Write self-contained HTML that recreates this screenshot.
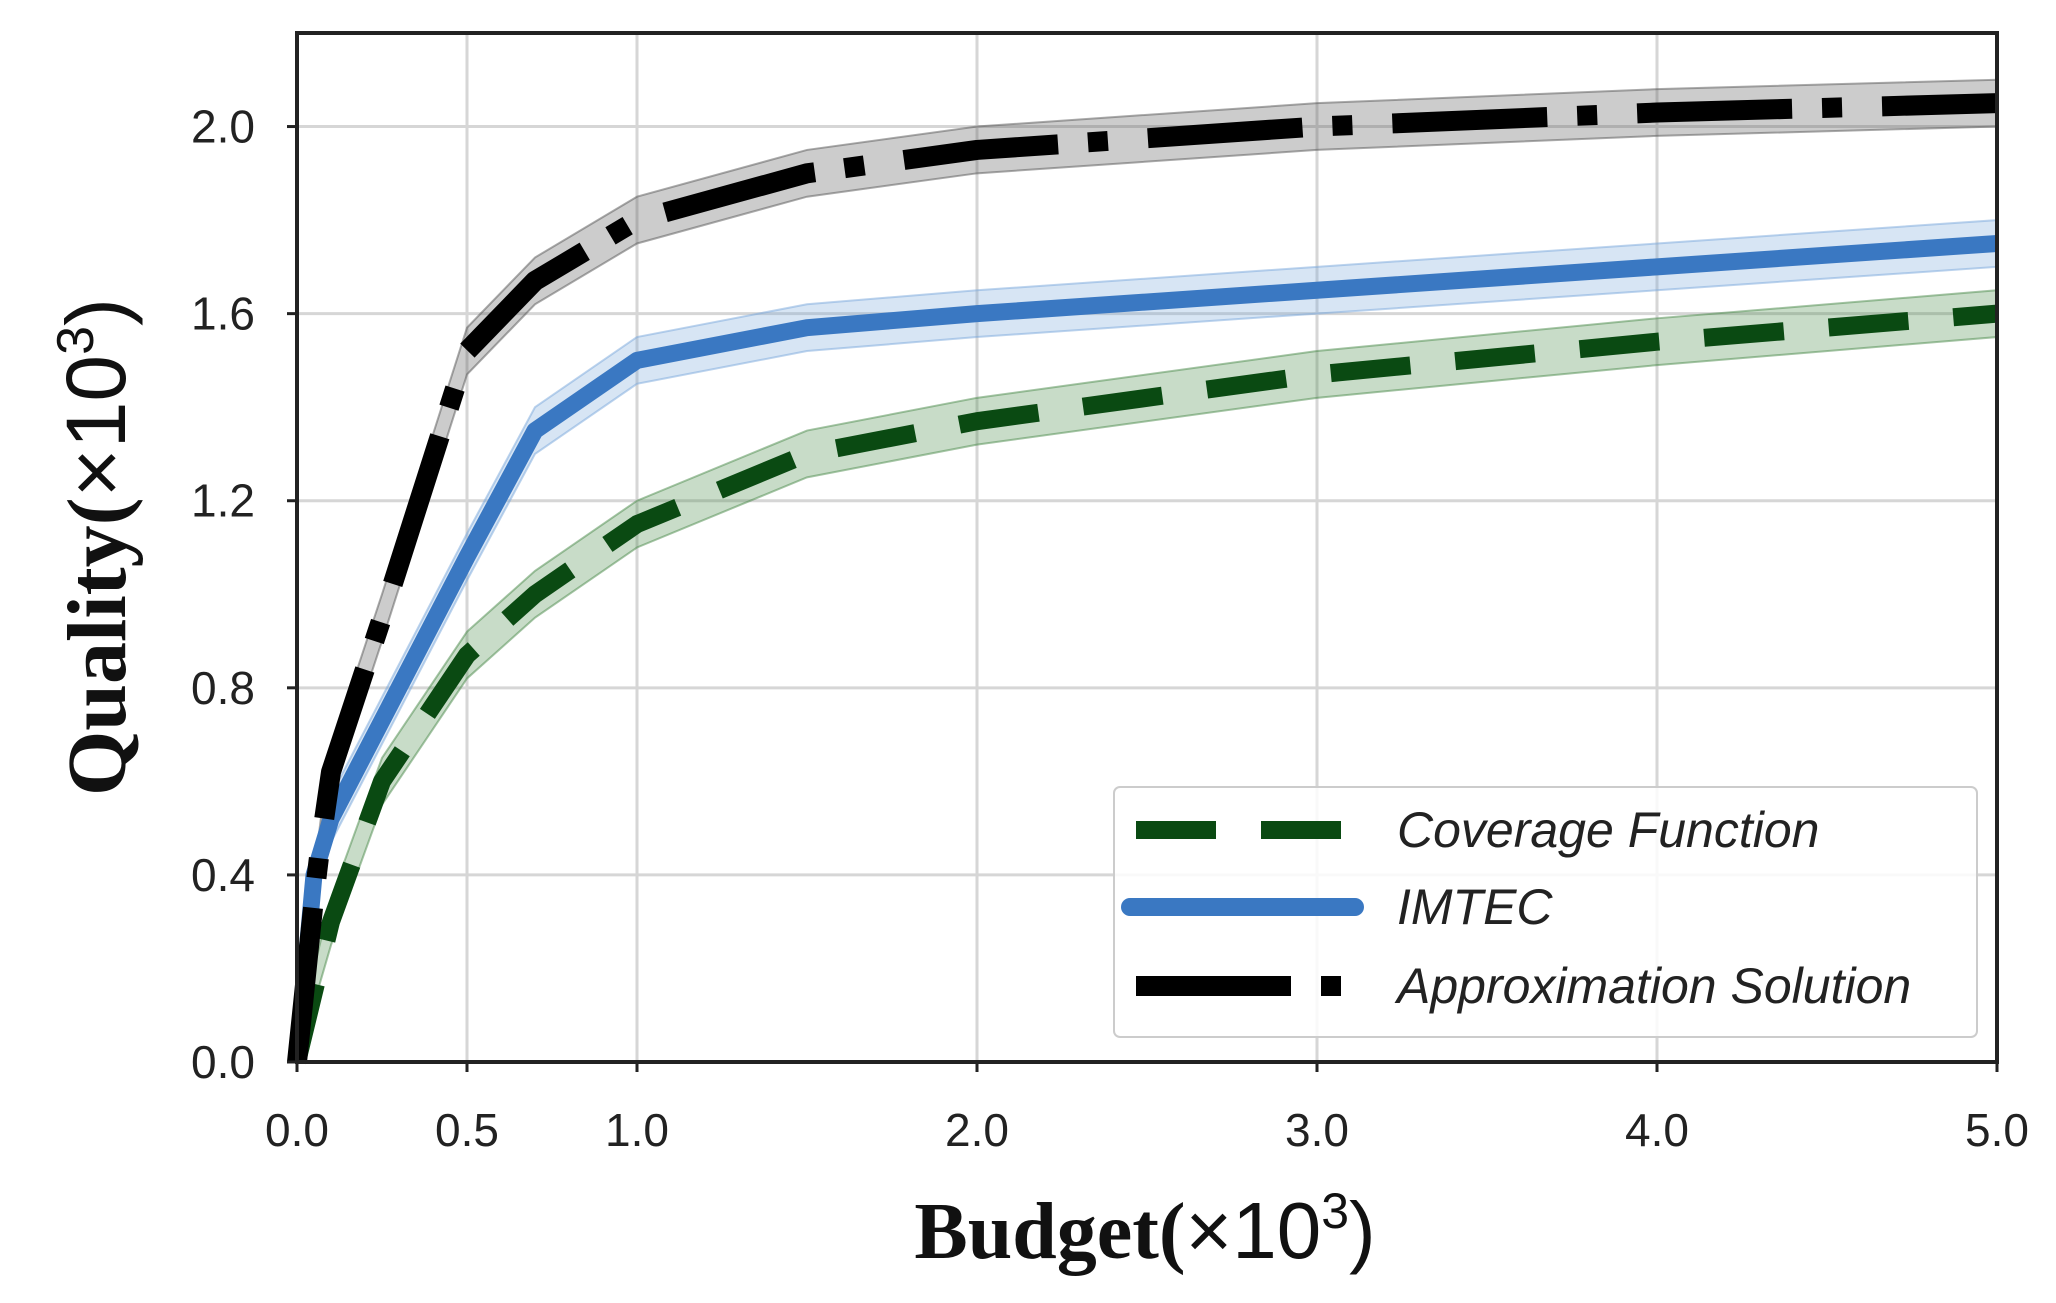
<!DOCTYPE html>
<html><head><meta charset="utf-8"><style>
html,body{margin:0;padding:0;background:#fff;}
svg{display:block;}
</style></head><body>
<svg id="chart" width="2056" height="1303" xmlns="http://www.w3.org/2000/svg">
<g id="grid"></g>
<g id="bands"></g>
<g id="lines"></g>
<rect x="297" y="33" width="1700" height="1029" fill="none" stroke="#222" stroke-width="4"/>
<g id="ticks" font-family="Liberation Sans, sans-serif" font-size="46" fill="#222"></g>
<text transform="translate(125,547) rotate(-90)" text-anchor="middle" font-size="84" fill="#111"><tspan font-family="Liberation Serif, serif" font-weight="bold">Quality(</tspan><tspan font-family="Liberation Sans, sans-serif">×10</tspan><tspan font-family="Liberation Sans, sans-serif" font-size="52" dy="-32">3</tspan><tspan font-family="Liberation Sans, sans-serif" dy="32">)</tspan></text>
<text x="1145" y="1258" text-anchor="middle" font-size="80" fill="#111"><tspan font-family="Liberation Serif, serif" font-weight="bold">Budget(</tspan><tspan font-family="Liberation Sans, sans-serif">×10</tspan><tspan font-family="Liberation Sans, sans-serif" font-size="50" dy="-30">3</tspan><tspan font-family="Liberation Sans, sans-serif" dy="30">)</tspan></text>
<g>
<rect x="1114" y="787" width="863" height="250" rx="6" fill="#fff" fill-opacity="0.85" stroke="#ccc" stroke-width="2"/>
<line x1="1136" y1="830" x2="1351" y2="830" stroke="#0a4a12" stroke-width="18" stroke-dasharray="80,45"/>
<text x="1397" y="847" font-family="Liberation Sans, sans-serif" font-style="italic" font-size="50" fill="#222">Coverage Function</text>
<line x1="1130" y1="907" x2="1355" y2="907" stroke="#3a78c2" stroke-width="18" stroke-linecap="round"/>
<text x="1397" y="924" font-family="Liberation Sans, sans-serif" font-style="italic" font-size="50" fill="#222">IMTEC</text>
<line x1="1136" y1="986" x2="1351" y2="986" stroke="#000" stroke-width="20" stroke-dasharray="155,30,20,40"/>
<text x="1397" y="1003" font-family="Liberation Sans, sans-serif" font-style="italic" font-size="50" fill="#222">Approximation Solution</text>
</g>
</svg>
<script>
const xTicks=[0,0.5,1,2,3,4,5];
const xTickLabels=["0.0","0.5","1.0","2.0","3.0","4.0","5.0"];
const yTicks=[0,0.4,0.8,1.2,1.6,2.0];
const yTickLabels=["0.0","0.4","0.8","1.2","1.6","2.0"];
const covX=[0,0.1,0.25,0.5,0.7,1.0,1.5,2,3,4,5];
const covY=[0,0.3,0.6,0.87,1.0,1.15,1.3,1.37,1.47,1.54,1.6];
const imX=[0,0.05,0.1,0.5,0.7,1.0,1.5,2,3,4,5];
const imY=[0,0.4,0.52,1.08,1.35,1.5,1.57,1.6,1.65,1.7,1.75];
const apX=[0,0.05,0.07,0.1,0.25,0.5,0.7,1.0,1.5,2,3,4,5];
const apY=[0,0.35,0.47,0.62,0.95,1.52,1.67,1.8,1.9,1.95,2.0,2.03,2.05];
const bandHalf=0.05;
const NS='http://www.w3.org/2000/svg';
const L=297,R=1997,T=33,B=1062;
function sx(v){return L+v/5*(R-L);}
function sy(v){return B-v/2.2*(B-T);}
function mk(tag,attrs,parent){const e=document.createElementNS(NS,tag);for(const k in attrs)e.setAttribute(k,attrs[k]);parent.appendChild(e);return e;}
const grid=document.getElementById('grid'),ticks=document.getElementById('ticks'),bands=document.getElementById('bands'),lines=document.getElementById('lines');
xTicks.forEach((t,i)=>{
 const g=mk('line',{x1:sx(t),x2:sx(t),y1:T,y2:B,stroke:'#d6d6d6','stroke-width':3},grid);
 
 
 const tk=mk('line',{x1:sx(t),x2:sx(t),y1:B,y2:B+10,stroke:'#222','stroke-width':3},ticks);
 
 
 const tx=mk('text',{x:sx(t),y:B+84,'text-anchor':'middle'},ticks);
 tx.textContent=xTickLabels[i];
 
 
});
yTicks.forEach((t,i)=>{
 const g=mk('line',{x1:L,x2:R,y1:sy(t),y2:sy(t),stroke:'#d6d6d6','stroke-width':3},grid);
 
 
 const tk=mk('line',{x1:L-10,x2:L,y1:sy(t),y2:sy(t),stroke:'#222','stroke-width':3},ticks);
 
 
 const tx=mk('text',{x:L-42,y:sy(t)+16,'text-anchor':'end'},ticks);
 tx.textContent=yTickLabels[i];
 
 
});
function series(xs,ys,name,fill,stroke,w,dash,cap){
 let up=xs.map((x,i)=>sx(x)+','+sy(ys[i]+bandHalf)).join(' ');
 let dn=xs.map((x,i)=>sx(x)+','+sy(Math.max(0,ys[i]-bandHalf))).reverse().join(' ');
 const b=mk('polygon',{points:up+' '+dn,fill:fill,'fill-opacity':0.3,stroke:fill,'stroke-opacity':0.5,'stroke-width':2},bands);
 
 
 const p=mk('polyline',{points:xs.map((x,i)=>sx(x)+','+sy(ys[i])).join(' '),fill:'none',stroke:stroke,'stroke-width':w,'stroke-linejoin':'round','stroke-linecap':cap},lines);
 if(dash)p.setAttribute('stroke-dasharray',dash);
 
 
}
series(covX,covY,'coverage','#4a8a4a','#0a4a12',18,'80,45','butt');
series(imX,imY,'imtec','#7aa8dc','#3a78c2',17,null,'butt');
series(apX,apY,'approx','#555','#000',20,'155,30,20,40','butt');
</script>
</body></html>
